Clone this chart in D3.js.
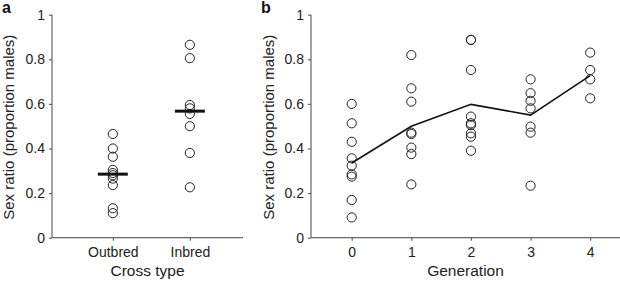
<!DOCTYPE html>
<html><head><meta charset="utf-8">
<script src="https://cdn.jsdelivr.net/npm/d3@7"></script>
<style>
html,body{margin:0;padding:0;background:#fff;}
svg{display:block;font-family:"Liberation Sans",Arial,sans-serif;}
</style></head>
<body><svg id="c" width="620" height="282"></svg>
<script>
// Panel a data
const crossTypes = ["Outbred", "Inbred"];
const outbredValues = [0.465, 0.40, 0.363, 0.304, 0.29, 0.28, 0.265, 0.236, 0.132, 0.11];
const inbredValues = [0.865, 0.805, 0.595, 0.58, 0.555, 0.50, 0.38, 0.226];
// Panel b data
const generations = [0, 1, 2, 3, 4];
const gen0 = [0.60, 0.513, 0.43, 0.356, 0.323, 0.284, 0.274, 0.169, 0.091];
const gen1 = [0.819, 0.67, 0.61, 0.471, 0.465, 0.404, 0.375, 0.239];
const gen2 = [0.887, 0.887, 0.752, 0.543, 0.513, 0.505, 0.468, 0.453, 0.39];
const gen3 = [0.71, 0.648, 0.614, 0.58, 0.498, 0.471, 0.233];
const gen4 = [0.83, 0.752, 0.71, 0.625];
const genMeans = [0.335, 0.50, 0.598, 0.55, 0.727];
const yTicks = [0, 0.2, 0.4, 0.6, 0.8, 1];
const yTickLabels = ["0", "0.2", "0.4", "0.6", "0.8", "1"];

const svg = d3.select("#c");
const axisColor = "#666", textColor = "#222";
const y = d3.scaleLinear().domain([0, 1]).range([237.7, 14.7]);

function styleAxis(g) {
  g.select(".domain").attr("stroke", axisColor).attr("stroke-width", 1.2);
  g.selectAll(".tick line").attr("stroke", axisColor).attr("stroke-width", 1.2);
  g.selectAll("text").attr("fill", textColor).attr("font-size", 14)
   .attr("font-family", "Liberation Sans, Arial, sans-serif");
}
function yAxis(x0) {
  const g = svg.append("g").attr("transform", `translate(${x0},0)`)
    .call(d3.axisLeft(y).tickValues(yTicks).tickSize(3).tickPadding(4)
      .tickFormat((d, i) => yTickLabels[i]));
  g.select(".domain").attr("d", `M-0,${y(1)}V${y(0)}`);
  styleAxis(g);
}
function median(arr) { return d3.median(arr); }

// ---------- Panel a ----------
const xa = d3.scaleLinear().domain([0.21, 2.69]).range([52, 243]);
yAxis(52);
const gxa = svg.append("g").attr("transform", `translate(0,${y(0)})`)
  .call(d3.axisBottom(xa).tickValues([1, 2]).tickSize(3).tickPadding(6)
    .tickFormat((d) => crossTypes[d - 1]));
gxa.select(".domain").attr("d", `M${xa.range()[0]},0H${xa.range()[1]}`);
styleAxis(gxa);

const groupsA = [outbredValues, inbredValues];
groupsA.forEach((vals, gi) => {
  svg.append("g").selectAll("circle").data(vals).join("circle")
    .attr("cx", xa(gi + 1)).attr("cy", d => y(d)).attr("r", 4.6)
    .attr("fill", "none").attr("stroke", "#222").attr("stroke-width", 1);
  const m = median(vals);
  svg.append("line")
    .attr("x1", xa(gi + 1) - 15).attr("x2", xa(gi + 1) + 15)
    .attr("y1", y(m)).attr("y2", y(m))
    .attr("stroke", "#111").attr("stroke-width", 3);
});

svg.append("text").attr("transform", `translate(14,${(y(0) + y(1)) / 2 + 1}) rotate(-90)`)
  .attr("text-anchor", "middle").attr("font-size", 15).attr("fill", textColor)
  .text("Sex ratio (proportion males)");
svg.append("text").attr("x", (xa.range()[0] + xa.range()[1]) / 2).attr("y", 276)
  .attr("text-anchor", "middle").attr("font-size", 15.5).attr("fill", textColor)
  .text("Cross type");
svg.append("text").attr("x", 2).attr("y", 13).attr("font-size", 16)
  .attr("font-weight", "bold").attr("fill", "#111").text("a");

// ---------- Panel b ----------
const xb = d3.scaleLinear().domain([-0.683, 4.5]).range([311, 620]);
yAxis(311);
const gxb = svg.append("g").attr("transform", `translate(0,${y(0)})`)
  .call(d3.axisBottom(xb).tickValues(generations).tickSize(3).tickPadding(6)
    .tickFormat(d3.format("d")));
gxb.select(".domain").attr("d", `M${xb.range()[0]},0H${xb.range()[1]}`);
styleAxis(gxb);

const genGroups = [gen0, gen1, gen2, gen3, gen4];
genGroups.forEach((vals, gi) => {
  svg.append("g").selectAll("circle").data(vals).join("circle")
    .attr("cx", xb(generations[gi])).attr("cy", d => y(d)).attr("r", 4.6)
    .attr("fill", "none").attr("stroke", "#222").attr("stroke-width", 1);
});
svg.append("path").datum(genMeans)
  .attr("d", d3.line().x((d, i) => xb(generations[i])).y(d => y(d)))
  .attr("fill", "none").attr("stroke", "#111").attr("stroke-width", 1.6);

svg.append("text").attr("transform", `translate(274,${(y(0) + y(1)) / 2 + 1}) rotate(-90)`)
  .attr("text-anchor", "middle").attr("font-size", 15).attr("fill", textColor)
  .text("Sex ratio (proportion males)");
svg.append("text").attr("x", (xb.range()[0] + xb.range()[1]) / 2).attr("y", 276)
  .attr("text-anchor", "middle").attr("font-size", 15.5).attr("fill", textColor)
  .text("Generation");
svg.append("text").attr("x", 261).attr("y", 13).attr("font-size", 16)
  .attr("font-weight", "bold").attr("fill", "#111").text("b");
</script></body></html>
